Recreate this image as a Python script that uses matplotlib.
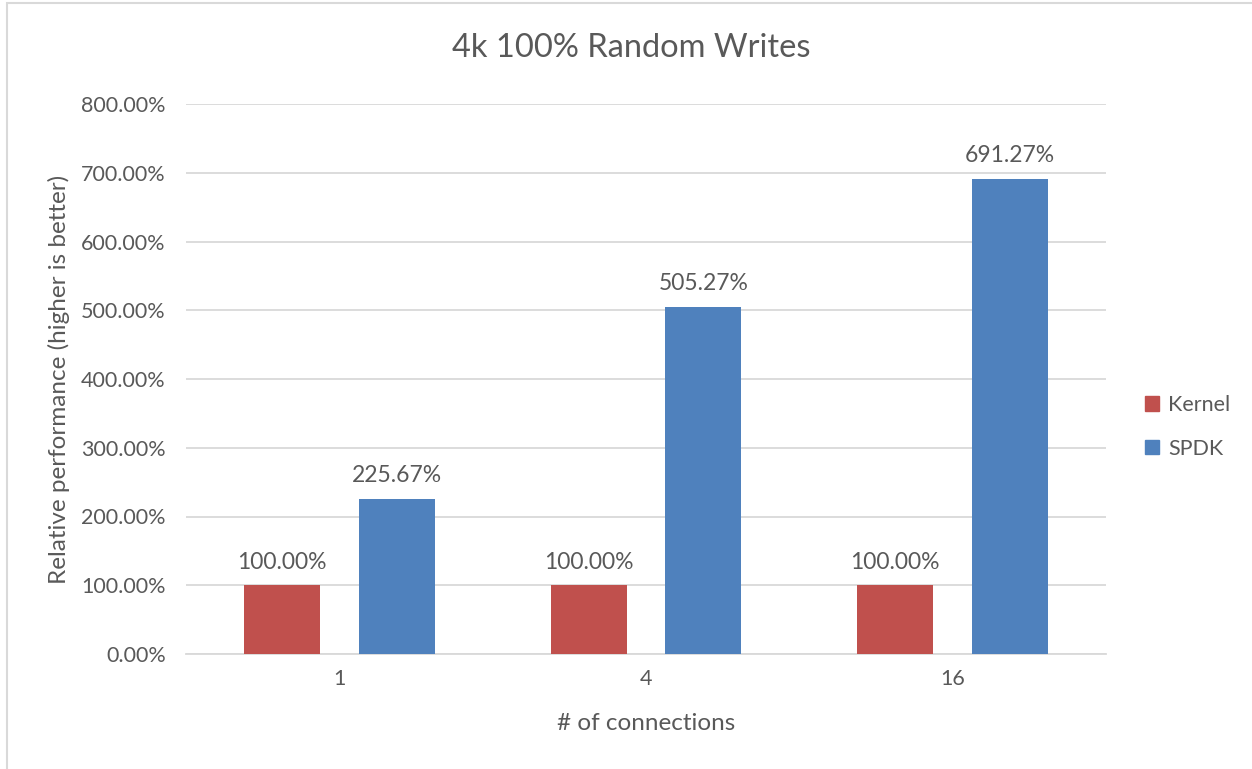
import matplotlib
matplotlib.use("Agg")
import matplotlib.pyplot as plt
import numpy as np
from matplotlib.patches import Rectangle

categories = ["1", "4", "16"]
kernel = [100.00, 100.00, 100.00]
spdk = [225.67, 505.27, 691.27]
yticks = [0, 100, 200, 300, 400, 500, 600, 700, 800]

plt.rcParams['font.family'] = ['Lato', 'DejaVu Sans']
TXT = '#595959'
RED = '#C0504D'
BLUE = '#4F81BD'
GRID = '#D9D9D9'

fig = plt.figure(figsize=(12.52, 7.69), dpi=100)
W, H = 1252, 769
# figure border
fig.patches.append(Rectangle((7 / W, -0.01), 1.02, 1 - 3 / H + 0.01, transform=fig.transFigure,
                             fill=False, edgecolor='#D9D9D9', linewidth=1.5))

ax = fig.add_axes([186 / W, 115 / H, 920 / W, 550 / H])
x = np.arange(len(categories))
bw = 0.248
off = 0.187
b1 = ax.bar(x - off, kernel, bw, color=RED, label='Kernel', zorder=3)
b2 = ax.bar(x + off, spdk, bw, color=BLUE, label='SPDK', zorder=3)

for bars, vals in ((b1, kernel), (b2, spdk)):
    for r, v in zip(bars, vals):
        ax.text(r.get_x() + r.get_width() / 2, v + 18, f"{v:.2f}%", ha='center', va='bottom',
                fontsize=16.5, color=TXT)

ax.set_xlim(-0.5, 2.5)
ax.set_ylim(0, 800)
ax.set_yticks(yticks)
ax.set_yticklabels([f"{t:.2f}%" for t in yticks])
ax.set_xticks(x)
ax.set_xticklabels(categories)
ax.tick_params(axis='both', length=0, labelsize=15.5, colors=TXT)
ax.tick_params(axis='y', pad=14.5)
ax.tick_params(axis='x', pad=11)
ax.grid(axis='y', color=GRID, linewidth=1.3, zorder=0)
for s in ['top', 'right', 'left']:
    ax.spines[s].set_visible(False)
ax.spines['bottom'].set_color(GRID)
ax.spines['bottom'].set_linewidth(1.3)

ax.set_xlabel('# of connections', fontsize=17.5, color=TXT, labelpad=17)
ax.set_ylabel('Relative performance (higher is better)', fontsize=17.5, color=TXT, labelpad=8)

fig.text(631 / W, 1 - 48 / H, '4k 100% Random Writes', ha='center', va='center', fontsize=23.5, color=TXT)

handles = [Rectangle((0, 0), 1, 1, color=RED), Rectangle((0, 0), 1, 1, color=BLUE)]
leg = fig.legend(handles, ['Kernel', 'SPDK'], loc='center left', bbox_to_anchor=(1126 / W, 1 - 427 / H),
                 frameon=False, fontsize=15.5, handlelength=0.65, handleheight=0.65, handletextpad=0.4,
                 labelspacing=1.1, labelcolor=TXT)

fig.savefig('out.png', dpi=100)
